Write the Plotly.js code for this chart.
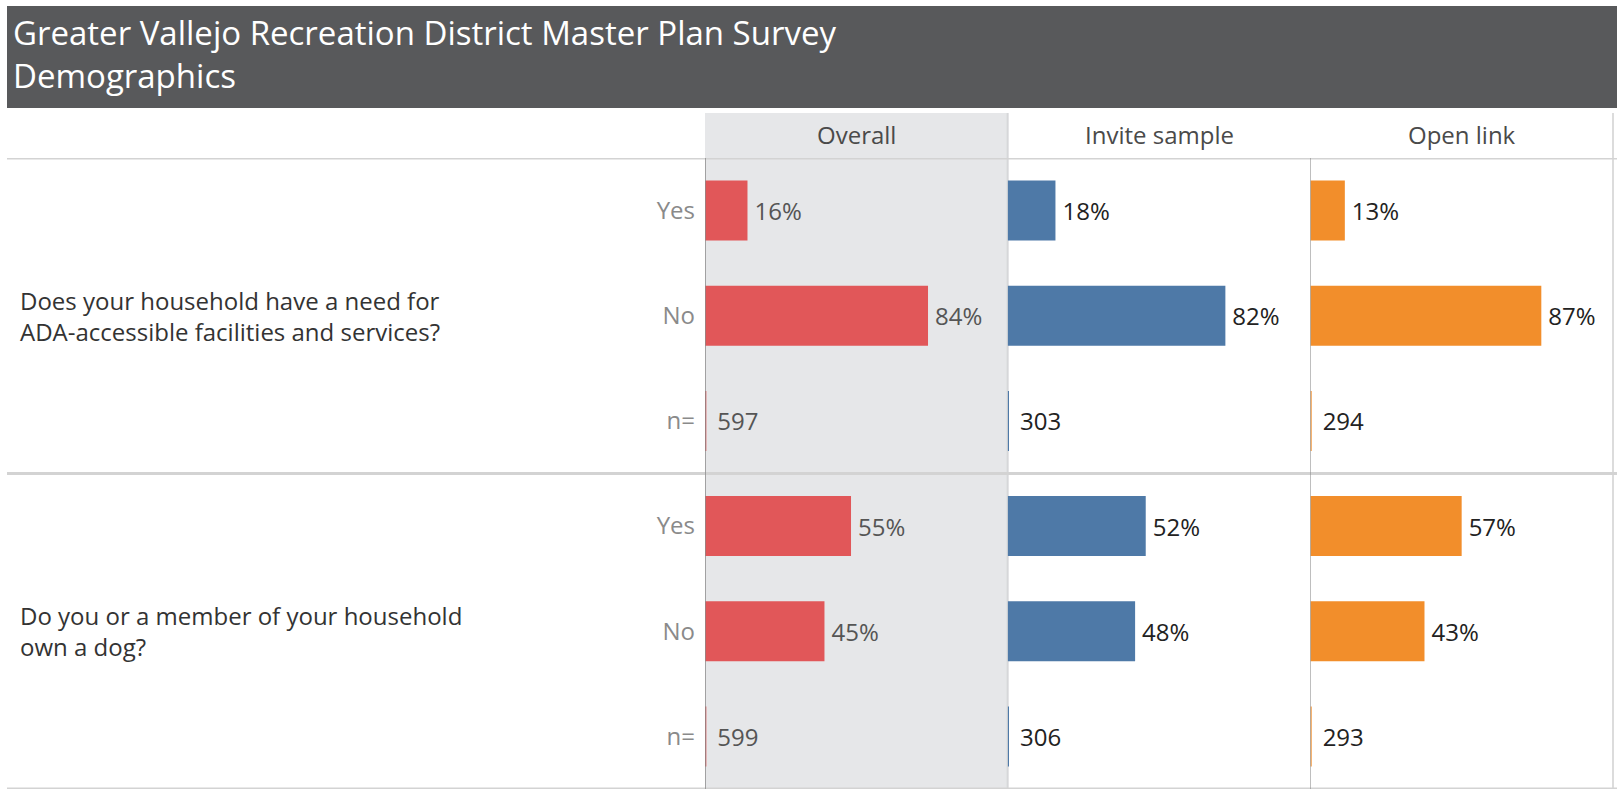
<!DOCTYPE html>
<html>
<head>
<meta charset="utf-8">
<script src="https://cdn.plot.ly/plotly-3.0.1.min.js"></script>
<style>
  html, body { margin: 0; padding: 0; background: #ffffff; }
  #chart { width: 1617px; height: 793px; }
</style>
</head>
<body>
<div id="chart"></div>
<script>
// ---------------- data ----------------
const chartTitle = "Greater Vallejo Recreation District Master Plan Survey<br>Demographics";
const questions = [
  "Does your household have a need for<br>ADA-accessible facilities and services?",
  "Do you or a member of your household<br>own a dog?"
];
const answers = ["Yes", "No"];
const nLabel = "n=";
const groups = ["Overall", "Invite sample", "Open link"];

// percentages: [Q1 Yes, Q1 No, Q2 Yes, Q2 No]
const overallPct = [16, 84, 55, 45];
const invitePct  = [18, 82, 52, 48];
const openPct    = [13, 87, 57, 43];

// sample sizes: [Q1, Q2]
const overallN = [597, 599];
const inviteN  = [303, 306];
const openN    = [294, 293];

// ---------------- styles ----------------
const FONT = "Open Sans, Noto Sans, sans-serif";
const colors = ["#e15759", "#4e79a7", "#f28e2b"];
const textColors = ["#555555", "#222222", "#222222"];
const N_STUB = 0.5;   // tiny stub bar for the n= rows
const THIN = "\u2009";

// Build rows: per question -> Yes, No, n=
const rowLabels = [];
questions.forEach(() => { answers.forEach(a => rowLabels.push(a)); rowLabels.push(nLabel); });
const rowIdx = rowLabels.map((_, i) => i);

function buildRows(pct, ns) {
  const xs = [], txt = [];
  questions.forEach((q, qi) => {
    answers.forEach((a, ai) => {
      const v = pct[qi * answers.length + ai];
      xs.push(v); txt.push(THIN + v + "%");
    });
    xs.push(N_STUB); txt.push(THIN + THIN + ns[qi]);
  });
  return { xs, txt };
}

const series = [overallPct, invitePct, openPct];
const nSeries = [overallN, inviteN, openN];
const axisIds = ["x", "x2", "x3"];

const traces = groups.map((g, gi) => {
  const r = buildRows(series[gi], nSeries[gi]);
  return {
    type: "bar",
    orientation: "h",
    name: g,
    x: r.xs,
    y: rowIdx,
    text: r.txt,
    textposition: "outside",
    cliponaxis: false,
    constraintext: "none",
    textfont: { family: FONT, size: 24, color: textColors[gi] },
    marker: { color: colors[gi], line: { width: 0 } },
    width: 0.57,
    xaxis: axisIds[gi],
    yaxis: "y",
    hoverinfo: "skip",
    showlegend: false
  };
});

// ---------------- layout ----------------
const L = 705, R = 4, T = 158, B = 4;
const W = 1617, H = 793;
const pw = W - L - R, ph = H - T - B;
const px2x = p => (p - L) / pw;          // pixel -> paper x
const py2y = p => 1 + (T - p) / ph;      // pixel -> paper y
const XMAX = 114;

const xBase = {
  range: [0, XMAX], showgrid: false, zeroline: false, showticklabels: false,
  showline: false, ticks: "", fixedrange: true
};

const shapes = [
  // title banner
  { type: "rect", xref: "paper", yref: "paper", x0: px2x(7), x1: px2x(1620), y0: py2y(108), y1: py2y(6),
    fillcolor: "#58595b", line: { width: 0 }, layer: "below" },
  // overall shaded band
  { type: "rect", xref: "x domain", yref: "paper", x0: 0, x1: 1, y0: 0, y1: py2y(113),
    fillcolor: "#e6e7e9", line: { width: 0 }, layer: "below" },
  // band right border
  { type: "line", xref: "x domain", yref: "paper", x0: 1, x1: 1, y0: 0, y1: py2y(113),
    line: { color: "#d6d7d9", width: 2 }, layer: "below" },
  // right border
  { type: "line", xref: "paper", yref: "paper", x0: 1, x1: 1, y0: 0, y1: py2y(113),
    line: { color: "#dcdcdc", width: 2 }, layer: "below" },
  // axis lines for overall and open link
  { type: "line", xref: "x", yref: "paper", x0: 0, x1: 0, y0: 0, y1: 1,
    line: { color: "#8a8a8a", width: 1.5 }, layer: "above" },
  { type: "line", xref: "x3", yref: "paper", x0: 0, x1: 0, y0: 0, y1: 1,
    line: { color: "#8a8a8a", width: 1 }, layer: "above" }
];
// horizontal separators at the section boundaries
const perQ = answers.length + 1;
for (let qi = 0; qi <= questions.length; qi++) {
  const yv = qi * perQ - 0.5;
  shapes.push({ type: "line", xref: "paper", yref: "y", x0: px2x(7), x1: px2x(1620), y0: yv, y1: yv,
    line: { color: "#d3d3d3", width: 3 }, layer: "below" });
}

const annotations = [];
// chart title inside the banner
annotations.push({
  text: chartTitle, xref: "paper", yref: "paper", x: px2x(11), y: py2y(54),
  xanchor: "left", yanchor: "middle", align: "left", showarrow: false,
  font: { family: FONT, size: 33, color: "#ffffff" }
});
groups.forEach((g, gi) => {
  annotations.push({
    text: g, xref: "paper", yref: "paper", x: (gi + 0.5) / groups.length, y: 1,
    xanchor: "center", yanchor: "middle", yshift: 24, showarrow: false,
    font: { family: FONT, size: 24, color: "#4a4a4a" }
  });
});
questions.forEach((q, qi) => {
  annotations.push({
    text: q, xref: "paper", yref: "y", x: px2x(18), y: qi * perQ + (answers.length - 1) / 2 + 0.5,
    xanchor: "left", yanchor: "middle", align: "left", showarrow: false,
    font: { family: FONT, size: 24, color: "#333333" }
  });
});

const layout = {
  width: W, height: H,
  margin: { l: L, r: R, t: T, b: B, pad: 0 },
  paper_bgcolor: "#ffffff",
  plot_bgcolor: "rgba(0,0,0,0)",
  font: { family: FONT },
  bargap: 0.43,
  xaxis: Object.assign({}, xBase, { domain: [0, 1 / 3], anchor: "y" }),
  xaxis2: Object.assign({}, xBase, { domain: [1 / 3, 2 / 3], anchor: "y" }),
  xaxis3: Object.assign({}, xBase, { domain: [2 / 3, 1], anchor: "y" }),
  yaxis: {
    range: [rowIdx.length - 0.5, -0.5],
    tickvals: rowIdx, ticktext: rowLabels,
    showgrid: false, zeroline: false, showline: false,
    ticks: "", ticklabelstandoff: 9,
    tickfont: { family: FONT, size: 24, color: "#8a8a8a" },
    fixedrange: true, anchor: "x"
  },
  shapes: shapes,
  annotations: annotations,
  showlegend: false
};

Plotly.newPlot("chart", traces, layout, { staticPlot: true, displayModeBar: false });
</script>
</body>
</html>
